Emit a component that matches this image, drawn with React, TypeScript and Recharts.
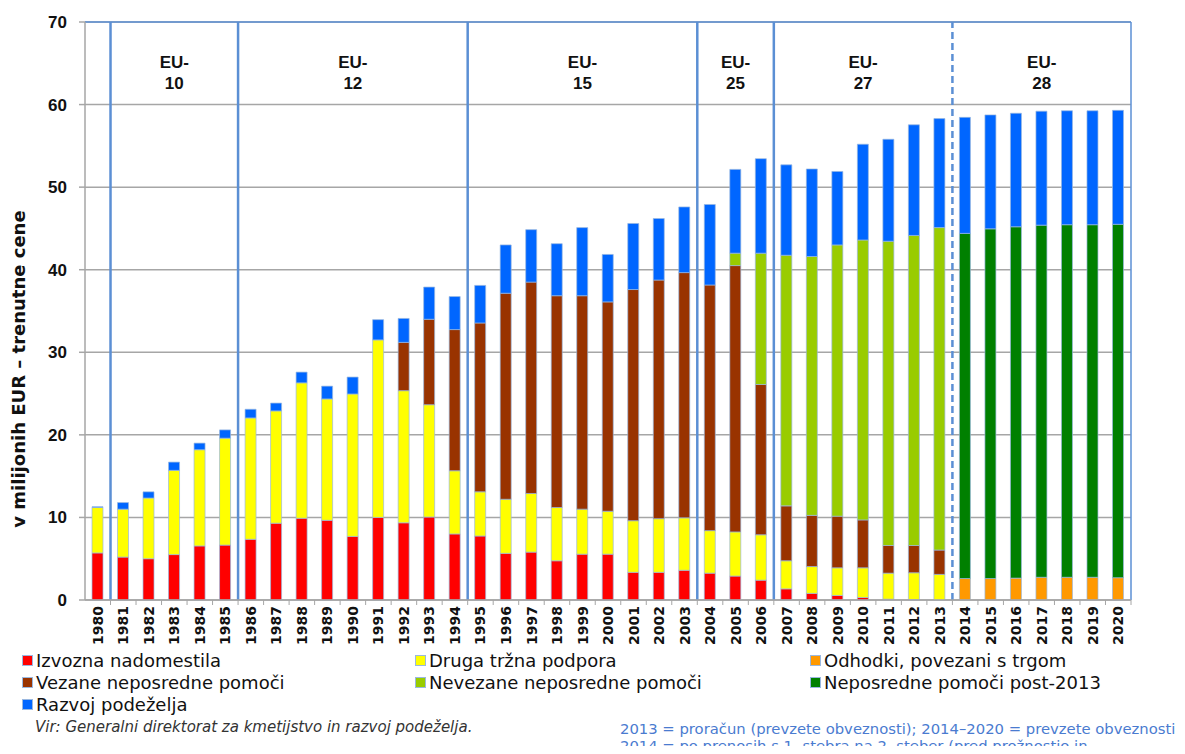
import React from 'react';
import { BarChart, Bar, XAxis, YAxis, CartesianGrid, ReferenceLine, ReferenceArea } from 'recharts';

const years = [
    '1980', '1981', '1982', '1983', '1984', '1985', '1986', '1987', '1988', '1989',
    '1990', '1991', '1992', '1993', '1994', '1995', '1996', '1997', '1998', '1999',
    '2000', '2001', '2002', '2003', '2004', '2005', '2006', '2007', '2008', '2009',
    '2010', '2011', '2012', '2013', '2014', '2015', '2016', '2017', '2018', '2019', '2020',
];

// billions EUR
const izvozna = [
    5.7, 5.2, 5.0, 5.5, 6.55, 6.65, 7.35, 9.3, 9.9, 9.65,
    7.7, 10.0, 9.35, 10.05, 8.0, 7.75, 5.65, 5.8, 4.75, 5.55,
    5.55, 3.35, 3.35, 3.6, 3.25, 2.9, 2.4, 1.35, 0.8, 0.55,
    0.3, 0.1, 0.05, 0, 0, 0, 0, 0, 0, 0, 0,
];
const druga = [
    5.5, 5.8, 7.35, 10.2, 11.65, 12.95, 14.7, 13.6, 16.4, 14.7,
    17.25, 21.5, 16.0, 13.6, 7.65, 5.35, 6.55, 7.1, 6.45, 5.45,
    5.2, 6.25, 6.5, 6.35, 5.15, 5.35, 5.5, 3.4, 3.25, 3.35,
    3.6, 3.15, 3.25, 3.1, 0, 0, 0, 0, 0, 0, 0,
];
const odhodki = [
    0, 0, 0, 0, 0, 0, 0, 0, 0, 0,
    0, 0, 0, 0, 0, 0, 0, 0, 0, 0,
    0, 0, 0, 0, 0, 0, 0, 0, 0, 0,
    0, 0, 0, 0, 2.6, 2.6, 2.65, 2.75, 2.75, 2.75, 2.7,
];
const vezane = [
    0, 0, 0, 0, 0, 0, 0, 0, 0, 0,
    0, 0, 5.85, 10.35, 17.1, 20.45, 24.95, 25.6, 25.65, 25.85,
    25.35, 28.0, 28.9, 29.7, 29.75, 32.25, 18.2, 6.65, 6.2, 6.25,
    5.8, 3.35, 3.3, 2.95, 0, 0, 0, 0, 0, 0, 0,
];
const nevezane = [
    0, 0, 0, 0, 0, 0, 0, 0, 0, 0,
    0, 0, 0, 0, 0, 0, 0, 0, 0, 0,
    0, 0, 0, 0, 0, 1.5, 15.9, 30.35, 31.35, 32.85,
    33.9, 36.85, 37.55, 39.05, 0, 0, 0, 0, 0, 0, 0,
];
const post2013 = [
    0, 0, 0, 0, 0, 0, 0, 0, 0, 0,
    0, 0, 0, 0, 0, 0, 0, 0, 0, 0,
    0, 0, 0, 0, 0, 0, 0, 0, 0, 0,
    0, 0, 0, 0, 41.8, 42.35, 42.55, 42.65, 42.7, 42.7, 42.8,
];
const razvoj = [
    0.1, 0.8, 0.75, 1.0, 0.8, 1.0, 1.05, 0.95, 1.3, 1.55,
    2.05, 2.45, 2.9, 3.9, 4.0, 4.55, 5.85, 6.35, 6.3, 8.25,
    5.75, 8.0, 7.45, 7.95, 9.75, 10.15, 11.45, 10.95, 10.6, 8.9,
    11.6, 12.35, 13.4, 13.2, 14.05, 13.8, 13.75, 13.8, 13.8, 13.8, 13.8,
];

const yTicks = [0, 10, 20, 30, 40, 50, 60, 70];

// enlargement periods: first year, last year, label
const periods = [
    { from: '1981', to: '1985', num: '10' },
    { from: '1986', to: '1994', num: '12' },
    { from: '1995', to: '2003', num: '15' },
    { from: '2004', to: '2006', num: '25' },
    { from: '2007', to: '2013', num: '27' },
    { from: '2014', to: '2020', num: '28' },
];

const series = [
    { key: 'izvozna', name: 'Izvozna nadomestila', color: '#ff0000', values: izvozna },
    { key: 'druga', name: 'Druga tržna podpora', color: '#ffff00', values: druga },
    { key: 'odhodki', name: 'Odhodki, povezani s trgom', color: '#ff9900', values: odhodki },
    { key: 'vezane', name: 'Vezane neposredne pomoči', color: '#993300', values: vezane },
    { key: 'nevezane', name: 'Nevezane neposredne pomoči', color: '#99cc00', values: nevezane },
    { key: 'post2013', name: 'Neposredne pomoči post-2013', color: '#008000', values: post2013 },
    { key: 'razvoj', name: 'Razvoj podeželja', color: '#0066ff', values: razvoj },
];

// legend order as in the picture (3 columns)
const legendOrder = ['izvozna', 'druga', 'odhodki', 'vezane', 'nevezane', 'post2013', 'razvoj'];

const data = years.map((year, i) => {
    const row: Record<string, any> = { year };
    series.forEach(s => { row[s.key] = s.values[i]; });
    return row;
});

const W = 1169;
const H = 738;
const M = { top: 14, right: 46, left: 0, bottom: 90 };
const Y_W = 77;
const X_H = 56;
const BAND = (W - M.right - Y_W) / years.length;
const LINE_BLUE = '#5b8fd4';
const GRID = '#a6a6a6';

const XTick = (props: any) => {
    const { x, y, payload } = props;
    return (
        <g>
            <line x1={x + BAND / 2} y1={y} x2={x + BAND / 2} y2={y + 5} stroke={GRID} strokeWidth={1} />
            <text
                transform={`translate(${x},${y + 6}) rotate(-90)`}
                textAnchor="end"
                dy="0.36em"
                fontFamily="'DejaVu Sans', Verdana, sans-serif"
                fontWeight="bold"
                fontSize={14}
                fill="#111"
            >
                {payload.value}
            </text>
        </g>
    );
};

const EuLabel = (props: any) => {
    const { viewBox, num } = props;
    if (!viewBox) return null;
    const cx = viewBox.x + viewBox.width / 2;
    const style = { fontFamily: "'Liberation Sans', Arial, sans-serif", fontWeight: 'bold' as const, fontSize: 17 };
    return (
        <g>
            <text x={cx} y={viewBox.y + 46} textAnchor="middle" fill="#111" style={style}>EU-</text>
            <text x={cx} y={viewBox.y + 67} textAnchor="middle" fill="#111" style={style}>{num}</text>
        </g>
    );
};

const YLabel = () => (
    <text
        transform="translate(11,361) rotate(-90)"
        textAnchor="middle"
        dy="0.36em"
        fontFamily="'DejaVu Sans', Verdana, sans-serif"
        fontWeight="bold"
        fontSize={18}
        fill="#111"
    >
        v milijonih EUR – trenutne cene
    </text>
);

export default function App() {
    const byKey: Record<string, typeof series[number]> = {};
    series.forEach(s => { byKey[s.key] = s; });

    return (
        <div style={{ position: 'relative', width: W, height: H, fontFamily: "'DejaVu Sans', Verdana, sans-serif", background: '#fff' }}>
            <BarChart width={W} height={H} data={data} margin={M} barSize={11}>
                <CartesianGrid horizontal vertical={false} stroke={GRID} strokeWidth={1.5} />
                <XAxis
                    dataKey="year"
                    interval={0}
                    height={X_H}
                    tickLine={false}
                    tickSize={0}
                    tickMargin={0}
                    axisLine={{ stroke: GRID, strokeWidth: 1.5 }}
                    tick={<XTick />}
                />
                <YAxis
                    width={Y_W}
                    domain={[0, 70]}
                    ticks={yTicks}
                    interval={0}
                    tickSize={6}
                    tickMargin={12}
                    axisLine={{ stroke: GRID, strokeWidth: 1.5 }}
                    tickLine={{ stroke: GRID, strokeWidth: 1.5 }}
                    tick={{ fontFamily: "'Liberation Sans', Arial, sans-serif", fontWeight: 'bold', fontSize: 17, fill: '#111' }}
                    label={{ content: () => <YLabel /> }}
                />
                {series.map(s => (
                    <Bar
                        key={s.key}
                        dataKey={s.key}
                        name={s.name}
                        stackId="a"
                        fill={s.color}
                        stroke="#9ab8e0"
                        strokeWidth={0.7}
                        isAnimationActive={false}
                    />
                ))}
                {periods.map(p => (
                    <ReferenceArea
                        key={p.num}
                        x1={p.from}
                        x2={p.to}
                        y1={60}
                        y2={70}
                        fill="none"
                        fillOpacity={0}
                        stroke="none"
                        label={(lp: any) => <EuLabel {...lp} num={p.num} />}
                    />
                ))}
                <ReferenceLine y={70} stroke={LINE_BLUE} strokeWidth={1.5} />
                <ReferenceLine x="2020" position="end" stroke={LINE_BLUE} strokeWidth={1.5} />
                {periods.slice(0, 5).map(p => (
                    <ReferenceLine key={'l' + p.num} x={p.from} position="start" stroke={LINE_BLUE} strokeWidth={2.5} />
                ))}
                <ReferenceLine x="2014" position="start" stroke={LINE_BLUE} strokeWidth={2.5} strokeDasharray="7 4" />
            </BarChart>

            <div style={{ position: 'absolute', left: 14, top: 641, width: 1150, display: 'grid', gridTemplateColumns: '393px 395px 360px', rowGap: 0 }}>
                {legendOrder.map(k => (
                    <div key={k} style={{ display: 'flex', alignItems: 'center', height: 22, fontSize: 18, color: '#111', whiteSpace: 'nowrap' }}>
                        <span style={{ display: 'inline-block', width: 9, height: 9, background: byKey[k].color, border: '1px solid #9ab8e0', marginRight: 3 }} />
                        {byKey[k].name}
                    </div>
                ))}
            </div>

            <div style={{ position: 'absolute', left: 27, top: 710, fontSize: 15, fontStyle: 'italic', color: '#333', whiteSpace: 'nowrap' }}>
                Vir: Generalni direktorat za kmetijstvo in razvoj podeželja.
            </div>
            <div style={{ position: 'absolute', left: 612, top: 712, fontSize: 14.8, lineHeight: '17px', color: '#4a7bd0', whiteSpace: 'nowrap' }}>
                <div>2013 = proračun (prevzete obveznosti); 2014–2020 = prevzete obveznosti</div>
                <div>2014 = po prenosih s 1. stebra na 2. steber (pred prožnostjo in</div>
            </div>
        </div>
    );
}
